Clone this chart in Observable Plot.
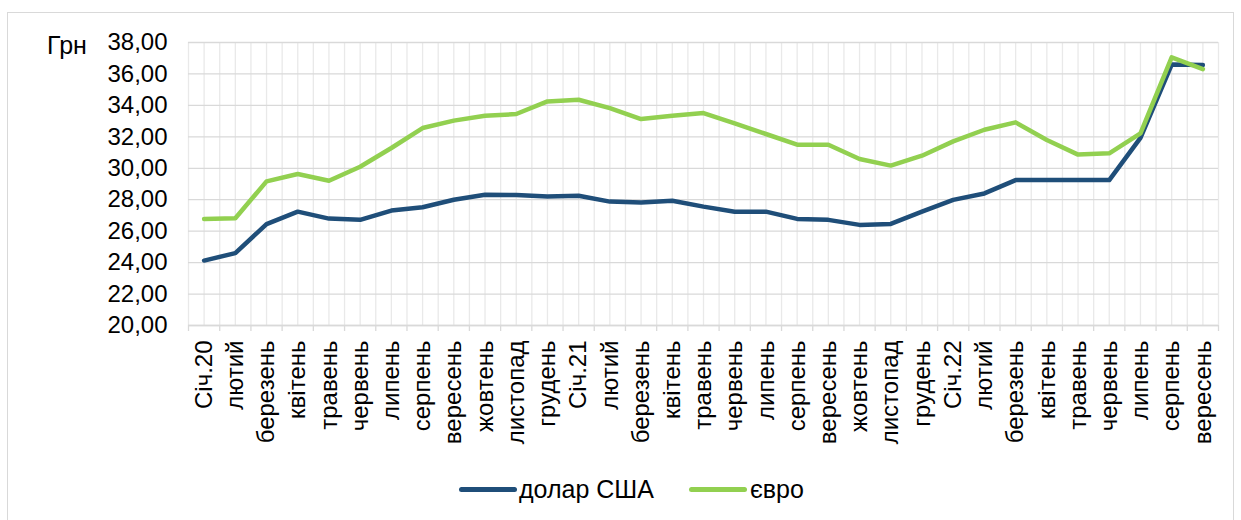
<!DOCTYPE html>
<html><head><meta charset="utf-8">
<script src="https://cdn.jsdelivr.net/npm/d3@7"></script>
<script src="https://cdn.jsdelivr.net/npm/@observablehq/plot@0.6"></script>
<style>
body{margin:0;background:#fff;font-family:"Liberation Sans",Arial,sans-serif;}
#frame{position:absolute;left:7px;top:12px;width:1227px;height:520px;border:1px solid #d9d9d9;box-sizing:border-box;}
#chart{position:absolute;left:0;top:0;}
#unit{position:absolute;left:47px;top:30.5px;font-size:25px;color:#000;line-height:normal;}
.sw{position:absolute;height:5px;border-radius:3px;}
.lt{position:absolute;font-size:25px;color:#000;line-height:normal;white-space:nowrap;}
</style></head>
<body>
<div id="frame"></div>
<div id="chart"></div>
<div id="unit">Грн</div>
<div id="legend"></div>
<script>
const months = ["Січ.20","лютий","березень","квітень","травень","червень","липень","серпень","вересень","жовтень","листопад","грудень",
  "Січ.21","лютий","березень","квітень","травень","червень","липень","серпень","вересень","жовтень","листопад","грудень",
  "Січ.22","лютий","березень","квітень","травень","червень","липень","серпень","вересень"];
const usd = [24.13,24.6,26.45,27.24,26.8,26.72,27.31,27.52,28.0,28.32,28.3,28.2,
  28.25,27.88,27.82,27.94,27.56,27.24,27.24,26.78,26.72,26.4,26.46,27.24,
  27.99,28.4,29.25,29.25,29.25,29.25,31.93,36.6,36.57];
const eur = [26.78,26.82,29.17,29.64,29.21,30.1,31.29,32.56,33.03,33.34,33.45,34.25,
  34.36,33.83,33.13,33.34,33.51,32.86,32.18,31.5,31.5,30.59,30.17,30.8,
  31.71,32.45,32.92,31.8,30.87,30.95,32.22,37.05,36.31];
const yTicks = [20,22,24,26,28,30,32,34,36,38];
const seriesNames = ["долар США","євро"];
const colors = ["#1f4e79","#92d050"];

const rows = months.map((m,i)=>({i, usd: usd[i], eur: eur[i]}));
const n = months.length;
const boundaries = d3.range(n+1).map(k=>k-0.5);
const halfSteps = d3.range(2*n+1).map(k=>k/2-0.5);

const chart = Plot.plot({
  width:1241, height:470,
  marginLeft:188, marginRight:23, marginTop:42, marginBottom:145,
  x:{type:"linear", domain:[-0.5, n-0.5]},
  y:{domain:[20,38]},
  style:{fontFamily:"'Liberation Sans', Arial, sans-serif", fontSize:"24px", color:"#000", background:"transparent"},
  marks:[
    Plot.gridX(halfSteps, {stroke:"#e9e9e9", strokeOpacity:1, strokeWidth:1.3}),
    Plot.gridY(yTicks, {stroke:"#d9d9d9", strokeOpacity:1, strokeWidth:1.3}),
    Plot.axisY({ticks:yTicks, tickFormat:d=>d3.format(".2f")(d).replace(".",","), tickSize:0, tickPadding:21, label:null}),
    Plot.axisX({ticks:d3.range(n), tickFormat:i=>months[i], tickSize:0, tickRotate:-90, tickPadding:15, label:null}),
    Plot.axisX({ticks:boundaries, tickFormat:()=>"", tickSize:6, stroke:"#d9d9d9", strokeWidth:1.3, label:null}),
    Plot.ruleY([20], {stroke:"#d9d9d9", strokeWidth:1.5}),
    Plot.line(rows, {x:"i", y:"usd", stroke:colors[0], strokeWidth:4.5, strokeLinejoin:"round", strokeLinecap:"round"}),
    Plot.line(rows, {x:"i", y:"eur", stroke:colors[1], strokeWidth:4.5, strokeLinejoin:"round", strokeLinecap:"round"})
  ]
});
document.getElementById("chart").appendChild(chart);

const leg = document.getElementById("legend");
const swLeft = [459, 689], txtLeft = [519, 750];
seriesNames.forEach((s,k)=>{
  const sw = document.createElement("span");
  sw.className = "sw";
  sw.style.cssText = `left:${swLeft[k]}px;top:486.5px;width:58px;background:${colors[k]}`;
  const t = document.createElement("span");
  t.className = "lt";
  t.style.left = txtLeft[k] + "px"; t.style.top = "474.5px";
  t.textContent = s;
  leg.appendChild(sw); leg.appendChild(t);
});
</script>
</body></html>
